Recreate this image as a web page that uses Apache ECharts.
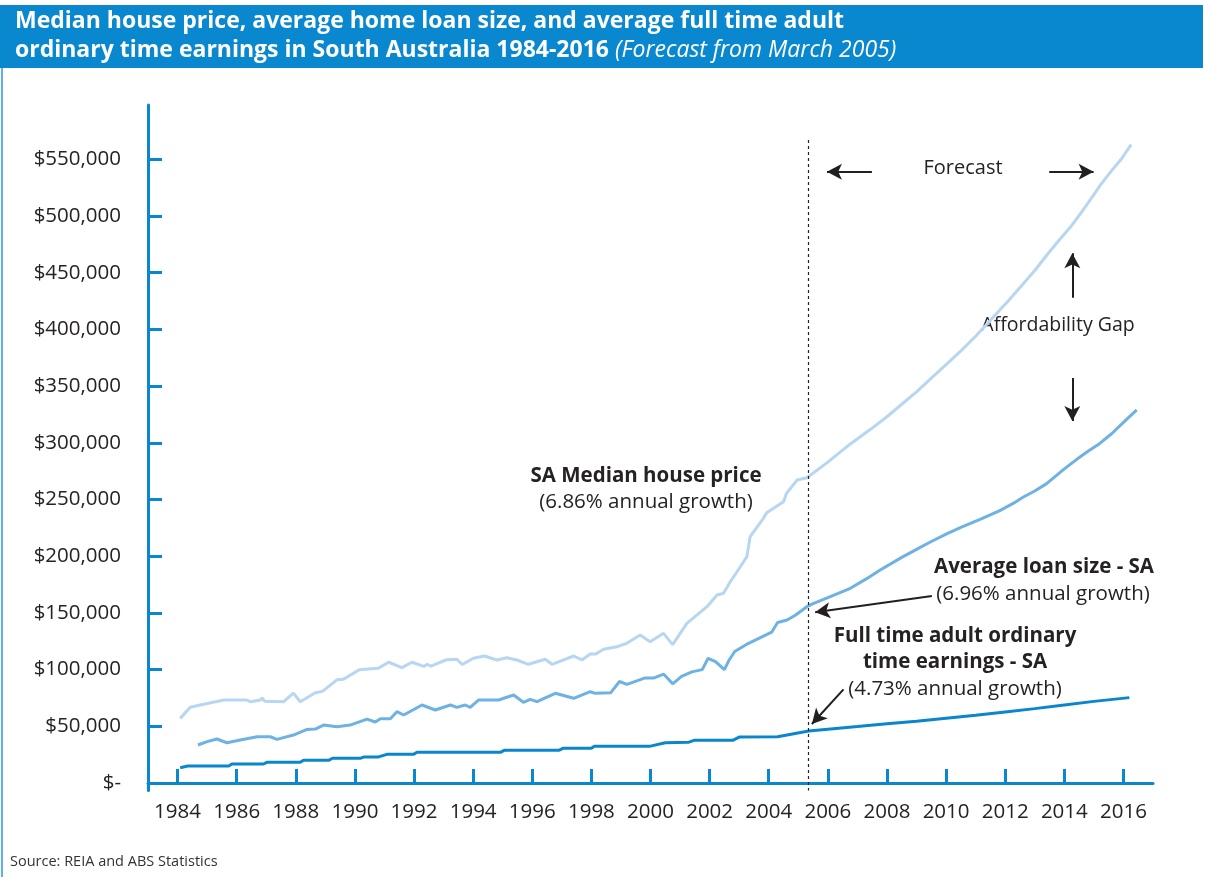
<!DOCTYPE html>
<html>
<head>
<meta charset="utf-8">
<script src="https://cdn.jsdelivr.net/npm/echarts@6/dist/echarts.min.js"></script>
<style>
  html, body { margin: 0; padding: 0; background: #ffffff; }
  #chart { width: 1205px; height: 877px; }
</style>
</head>
<body>
<div id="chart"></div>
<script>
// SA median house price, average loan size and full time adult earnings (forecast from March 2005)
const housePrice = [
  [1984.09, 57000], [1984.43, 66800], [1984.77, 68800], [1985.56, 73200], [1986.35, 73200],
  [1986.46, 71700], [1986.8, 73200], [1986.86, 75000], [1986.95, 72000], [1987.59, 71700],
  [1987.92, 79300], [1988.15, 71700], [1988.66, 79600], [1988.9, 80800], [1989.39, 91000],
  [1989.6, 91400], [1990.15, 99900], [1990.78, 101100], [1991.14, 106500], [1991.59, 101700],
  [1991.93, 106500], [1992.33, 102800], [1992.45, 104700], [1992.57, 103000], [1993.1, 108700],
  [1993.45, 109100], [1993.63, 104500], [1994.01, 110000], [1994.38, 112000], [1994.8, 108500],
  [1995.14, 110500], [1995.48, 108500], [1995.87, 104700], [1996.44, 109100], [1996.67, 104700],
  [1997.4, 112000], [1997.68, 108500], [1997.96, 113800], [1998.15, 113800], [1998.41, 118000],
  [1998.86, 120200], [1999.2, 123200], [1999.65, 130500], [1999.99, 124600], [2000.44, 132000],
  [2000.75, 122000], [2001.23, 140800], [2001.91, 155500], [2002.25, 165800], [2002.47, 167300],
  [2002.7, 177500], [2003.04, 190700], [2003.26, 199600], [2003.37, 217200], [2003.82, 233400],
  [2003.93, 238400], [2004.5, 248000], [2004.6, 255400], [2004.96, 267200], [2005.29, 269200],
  [2006.0, 283000], [2006.76, 299000], [2007.5, 313000], [2008.0, 323000], [2008.5, 334000],
  [2009.0, 345000], [2009.5, 357000], [2010.0, 369000], [2010.5, 381000], [2011.0, 394000],
  [2011.6, 411000], [2012.1, 425000], [2012.5, 437000], [2013.0, 452000], [2013.41, 465600],
  [2013.8, 478000], [2014.2, 490000], [2014.6, 504000], [2014.99, 518500], [2015.21, 527000],
  [2015.6, 540000], [2015.95, 551000], [2016.26, 563000]
];

const loanSize = [
  [1984.69, 33500], [1985.0, 36500], [1985.33, 38800], [1985.67, 35500], [1986.12, 37900],
  [1986.69, 40800], [1987.14, 40800], [1987.36, 38500], [1987.92, 42300], [1988.38, 47300],
  [1988.66, 47600], [1988.94, 51100], [1989.39, 49700], [1989.84, 51100], [1990.41, 56400],
  [1990.69, 53800], [1990.86, 56700], [1991.2, 56700], [1991.42, 62900], [1991.65, 60000],
  [1992.27, 68800], [1992.72, 64400], [1993.23, 68800], [1993.45, 66700], [1993.73, 68800],
  [1993.9, 66700], [1994.18, 73200], [1994.86, 73200], [1995.37, 77600], [1995.7, 71200],
  [1995.93, 73800], [1996.16, 71700], [1996.78, 79100], [1997.4, 74700], [1997.96, 80500],
  [1998.13, 79100], [1998.65, 79500], [1998.95, 89500], [1999.2, 87000], [1999.8, 92500],
  [2000.1, 92500], [2000.45, 96000], [2000.75, 87500], [2001.05, 94000], [2001.4, 98000],
  [2001.75, 100000], [2001.95, 110000], [2002.2, 107000], [2002.5, 100000], [2002.65, 108000],
  [2002.85, 116000], [2003.3, 123000], [2003.7, 128000], [2004.1, 133000], [2004.3, 141500],
  [2004.62, 143700], [2004.9, 148000], [2005.29, 155500], [2005.46, 157800], [2006.0, 163500],
  [2006.76, 171700], [2007.3, 180000], [2007.77, 187800], [2008.5, 199000], [2009.0, 206000],
  [2009.5, 213000], [2010.0, 219500], [2010.5, 225500], [2011.15, 232500], [2011.8, 240000],
  [2012.3, 247000], [2012.6, 252000], [2013.0, 257500], [2013.4, 264000], [2014.0, 277000],
  [2014.4, 285000], [2014.8, 292500], [2015.2, 299500], [2015.6, 308000], [2016.0, 318000],
  [2016.45, 329000]
];

const earnings = [
  [1984.09, 13500], [1984.34, 15000], [1985.73, 15000], [1985.84, 16750], [1986.91, 16750],
  [1987.02, 18250], [1988.15, 18250], [1988.26, 20000], [1989.11, 20000], [1989.24, 21800],
  [1990.18, 21800], [1990.29, 22900], [1990.8, 23000], [1991.08, 25300], [1991.98, 25300],
  [1992.1, 27100], [1994.92, 27100], [1995.05, 28800], [1996.9, 28800], [1997.05, 30700],
  [1998.0, 30700], [1998.1, 32500], [2000.0, 32500], [2000.5, 35500], [2001.3, 36000],
  [2001.5, 37800], [2002.8, 37800], [2003.0, 40500], [2004.3, 40800], [2005.35, 45900],
  [2006.0, 47500], [2007.0, 49800], [2008.0, 52200], [2009.0, 54500], [2010.0, 57200],
  [2011.0, 59800], [2012.0, 62700], [2013.0, 65600], [2014.0, 68800], [2015.0, 72000],
  [2016.2, 75300]
];

const yearTicks = [1984, 1986, 1988, 1990, 1992, 1994, 1996, 1998, 2000, 2002, 2004, 2006, 2008, 2010, 2012, 2014, 2016];
const valueLabels = [0, 50000, 100000, 150000, 200000, 250000, 300000, 350000, 400000, 450000, 500000, 550000];
const valueTicks = valueLabels.slice(1);

const forecastStart = 2005.33;

const AXIS_BLUE = '#0a88cf';
const TEXT = '#262223';
const FONT = '"Open Sans", "Noto Sans", sans-serif';

const chart = echarts.init(document.getElementById('chart'), null, { renderer: 'canvas' });

// arrow helper: a markLine segment in data coordinates with an arrowhead at the end
function arrow(from, to) {
  return [
    { coord: from, symbol: 'none' },
    { coord: to, symbol: 'arrow', symbolSize: [12, 15] }
  ];
}

const option = {
  animation: false,
  backgroundColor: '#ffffff',
  grid: { left: 148, right: 52, top: 105, bottom: 86.5, containLabel: false },
  xAxis: {
    type: 'value',
    min: 1983,
    max: 2017,
    splitLine: { show: false },
    axisLine: { show: true, lineStyle: { color: AXIS_BLUE, width: 3 } },
    axisTick: { show: true, inside: true, length: 14, customValues: yearTicks, lineStyle: { color: AXIS_BLUE, width: 3 } },
    axisLabel: {
      customValues: yearTicks, color: TEXT, fontFamily: FONT, fontSize: 20.5, margin: 11,
      formatter: v => String(v)
    }
  },
  yAxis: {
    type: 'value',
    min: -6600,
    max: 597900,
    splitLine: { show: false },
    axisLine: { show: true, lineStyle: { color: AXIS_BLUE, width: 3 } },
    axisTick: { show: true, inside: true, length: 14, customValues: valueTicks, lineStyle: { color: AXIS_BLUE, width: 3 } },
    axisLabel: {
      customValues: valueLabels, color: TEXT, fontFamily: FONT, fontSize: 20.5, margin: 27,
      formatter: v => v === 0 ? '$-' : '$' + v.toLocaleString('en-US')
    }
  },
  series: [
    {
      name: 'SA Median house price',
      type: 'line',
      data: housePrice,
      showSymbol: false,
      lineStyle: { color: '#b6d6f1', width: 3 },
      z: 2
    },
    {
      name: 'Average loan size - SA',
      type: 'line',
      data: loanSize,
      showSymbol: false,
      lineStyle: { color: '#6db2e3', width: 3 },
      z: 3
    },
    {
      name: 'Full time adult ordinary time earnings - SA',
      type: 'line',
      data: earnings,
      showSymbol: false,
      lineStyle: { color: '#0a86cc', width: 3 },
      z: 4,
      markLine: {
        silent: true,
        animation: false,
        label: { show: false },
        emphasis: { disabled: true },
        data: [
          // forecast boundary
          [
            { coord: [forecastStart, 567000], symbol: 'none', lineStyle: { type: [3, 3], width: 1.2, color: '#262223' } },
            { coord: [forecastStart, -6600], symbol: 'none' }
          ],
          arrow([2007.49, 539000], [2005.97, 539000]),
          arrow([2013.49, 539000], [2014.99, 539000]),
          arrow([2014.27, 427900], [2014.27, 467100]),
          arrow([2014.27, 357100], [2014.27, 319200]),
          arrow([2009.52, 164900], [2005.57, 150500]),
          arrow([2006.53, 82600], [2005.46, 52000])
        ],
        lineStyle: { color: '#231f20', width: 2, type: 'solid' }
      }
    }
  ],
  graphic: [
    // header bar
    { type: 'rect', shape: { x: 0, y: 5, width: 1203, height: 63 }, style: { fill: '#0a88cf' }, z: 0 },
    { type: 'line', shape: { x1: 2, y1: 68, x2: 2, y2: 877 }, style: { stroke: '#5fb0e4', lineWidth: 2 } },
    {
      type: 'text', x: 15, y: 21,
      style: {
        text: 'Median house price, average home loan size, and average full time adult',
        font: 'bold 23px ' + FONT, fill: '#ffffff', verticalAlign: 'middle'
      }
    },
    {
      type: 'text', x: 15, y: 50,
      style: {
        text: '{b|ordinary time earnings in South Australia 1984-2016 }{i|(Forecast from March 2005)}',
        verticalAlign: 'middle',
        rich: {
          b: { font: 'bold 23px ' + FONT, fill: '#ffffff' },
          i: { font: 'italic 23px ' + FONT, fill: '#ffffff' }
        }
      }
    },
    // annotations
    { type: 'text', x: 963, y: 168, style: { text: 'Forecast', font: '20px ' + FONT, fill: TEXT, align: 'center', verticalAlign: 'middle' } },
    { type: 'text', x: 1058, y: 325, style: { text: 'Affordability Gap', font: '19.5px ' + FONT, fill: TEXT, align: 'center', verticalAlign: 'middle' } },
    { type: 'text', x: 646, y: 476, style: { text: 'SA Median house price', font: 'bold 20.5px ' + FONT, fill: TEXT, align: 'center', verticalAlign: 'middle' } },
    { type: 'text', x: 646, y: 502, style: { text: '(6.86% annual growth)', font: '20.5px ' + FONT, fill: TEXT, align: 'center', verticalAlign: 'middle' } },
    { type: 'text', x: 1044, y: 567, style: { text: 'Average loan size - SA', font: 'bold 20.5px ' + FONT, fill: TEXT, align: 'center', verticalAlign: 'middle' } },
    { type: 'text', x: 1043, y: 594, style: { text: '(6.96% annual growth)', font: '20.5px ' + FONT, fill: TEXT, align: 'center', verticalAlign: 'middle' } },
    { type: 'text', x: 955, y: 636, style: { text: 'Full time adult ordinary', font: 'bold 20.5px ' + FONT, fill: TEXT, align: 'center', verticalAlign: 'middle' } },
    { type: 'text', x: 955, y: 662, style: { text: 'time earnings - SA', font: 'bold 20.5px ' + FONT, fill: TEXT, align: 'center', verticalAlign: 'middle' } },
    { type: 'text', x: 955, y: 689, style: { text: '(4.73% annual growth)', font: '20.5px ' + FONT, fill: TEXT, align: 'center', verticalAlign: 'middle' } },
    { type: 'text', x: 10, y: 862, style: { text: 'Source: REIA and ABS Statistics', font: '14.5px ' + FONT, fill: '#333333', verticalAlign: 'middle' } }
  ]
};

chart.setOption(option);
</script>
</body>
</html>
